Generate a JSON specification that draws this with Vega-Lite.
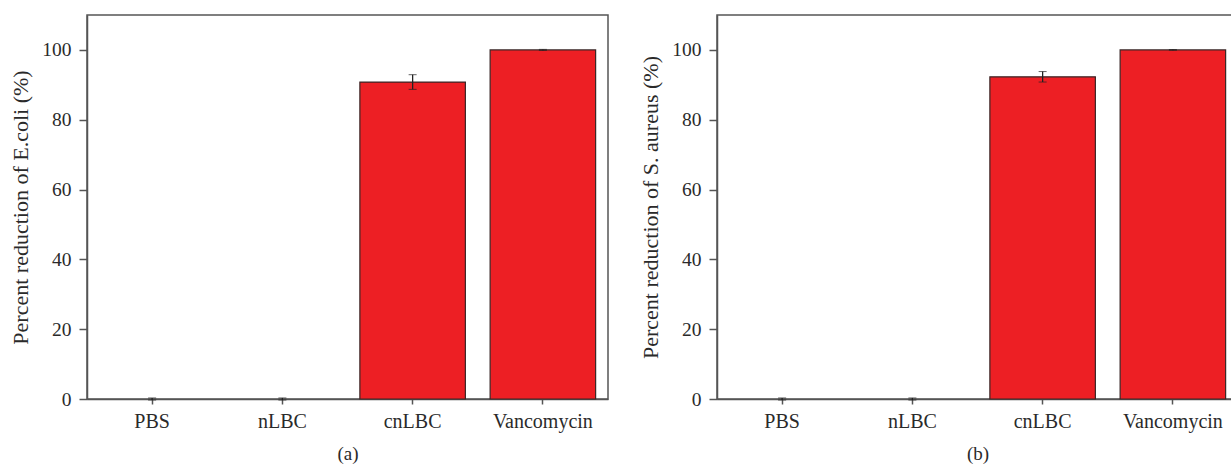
{
  "$schema": "https://vega.github.io/schema/vega-lite/v6.json",
  "padding": {"left": 9, "top": 14, "right": -6, "bottom": 5},
  "background": "white",
  "spacing": 109,
  "bounds": "flush",
  "config": {
    "view": {"stroke": "#555555", "strokeWidth": 1.5},
    "font": "Liberation Serif",
    "axis": {
      "labelFont": "Liberation Serif",
      "titleFont": "Liberation Serif",
      "labelFontSize": 19.5,
      "titleFontSize": 22,
      "titleFontWeight": "normal",
      "labelColor": "#2a2a2a",
      "titleColor": "#2a2a2a",
      "domainColor": "#555555",
      "domainWidth": 1.5,
      "tickColor": "#555555",
      "tickWidth": 1.5,
      "grid": false
    }
  },
  "hconcat": [
    {
      "width": 521,
      "height": 384,
      "data": {"values": [
        {"group": "PBS", "value": 0, "err": 0.3},
        {"group": "nLBC", "value": 0, "err": 0.3},
        {"group": "cnLBC", "value": 90.8, "err": 2.1},
        {"group": "Vancomycin", "value": 100, "err": 0.15}
      ]},
      "encoding": {
        "x": {"field": "group", "type": "nominal", "sort": ["PBS", "nLBC", "cnLBC", "Vancomycin"],
              "scale": {"paddingInner": 0.19, "paddingOuter": 0.095},
              "axis": {"title": "(a)", "labelAngle": 0, "labelFontSize": 20, "tickSize": 5, "labelPadding": 7, "titlePadding": 13, "titleFontSize": 19}}
      },
      "layer": [
        {
          "transform": [{"filter": "datum.value > 0"}],
          "mark": {"type": "bar", "fill": "#ED1F24", "stroke": "#3a2626", "strokeWidth": 1.2},
          "encoding": {
            "y": {"field": "value", "type": "quantitative", "scale": {"domain": [0, 110], "nice": false},
                  "title": "Percent reduction of E.coli (%)",
                  "axis": {"values": [0, 20, 40, 60, 80, 100], "tickSize": 8, "labelPadding": 8, "titlePadding": 9}}
          }
        },
        {
          "mark": {"type": "errorbar", "ticks": {"size": 8, "color": "#222222", "strokeWidth": 1.3}, "rule": {"color": "#222222", "strokeWidth": 1.3}},
          "encoding": {
            "y": {"field": "value", "type": "quantitative", "title": "Percent reduction of E.coli (%)"},
            "yError": {"field": "err"}
          }
        }
      ]
    },
    {
      "width": 521,
      "height": 384,
      "data": {"values": [
        {"group": "PBS", "value": 0, "err": 0.3},
        {"group": "nLBC", "value": 0, "err": 0.3},
        {"group": "cnLBC", "value": 92.3, "err": 1.5},
        {"group": "Vancomycin", "value": 100, "err": 0.1}
      ]},
      "encoding": {
        "x": {"field": "group", "type": "nominal", "sort": ["PBS", "nLBC", "cnLBC", "Vancomycin"],
              "scale": {"paddingInner": 0.19, "paddingOuter": 0.095},
              "axis": {"title": "(b)", "labelAngle": 0, "labelFontSize": 20, "tickSize": 5, "labelPadding": 7, "titlePadding": 13, "titleFontSize": 19}}
      },
      "layer": [
        {
          "transform": [{"filter": "datum.value > 0"}],
          "mark": {"type": "bar", "fill": "#ED1F24", "stroke": "#3a2626", "strokeWidth": 1.2},
          "encoding": {
            "y": {"field": "value", "type": "quantitative", "scale": {"domain": [0, 110], "nice": false},
                  "title": "Percent reduction of S. aureus (%)",
                  "axis": {"values": [0, 20, 40, 60, 80, 100], "tickSize": 8, "labelPadding": 8, "titlePadding": 9}}
          }
        },
        {
          "mark": {"type": "errorbar", "ticks": {"size": 8, "color": "#222222", "strokeWidth": 1.3}, "rule": {"color": "#222222", "strokeWidth": 1.3}},
          "encoding": {
            "y": {"field": "value", "type": "quantitative", "title": "Percent reduction of S. aureus (%)"},
            "yError": {"field": "err"}
          }
        }
      ]
    }
  ]
}
